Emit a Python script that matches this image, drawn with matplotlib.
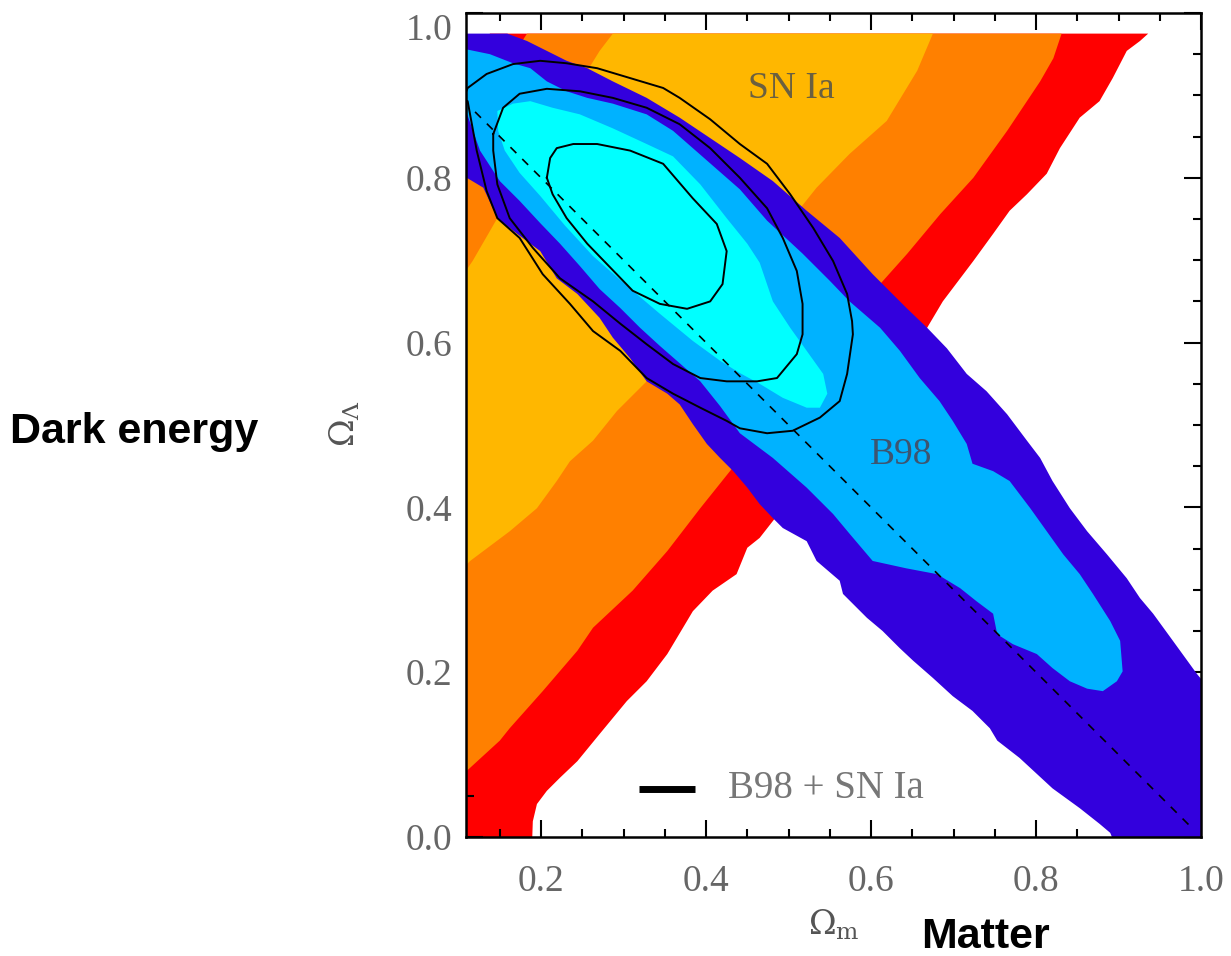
import matplotlib
matplotlib.use("Agg")
import matplotlib.pyplot as plt
from matplotlib.ticker import MultipleLocator

plt.rcParams['mathtext.fontset'] = 'dejavuserif'

# ---------------- data (Omega_m, Omega_Lambda) ----------------
# SN Ia confidence bands (68 / 95 / 99 %)
sn68 = [(0.287, 0.975), (0.271, 0.954), (0.211, 0.857), (0.147, 0.751), (0.117, 0.699),
        (0.09, 0.66), (0.09, 0.31), (0.114, 0.335), (0.162, 0.371), (0.195, 0.399),
        (0.219, 0.432), (0.235, 0.456), (0.263, 0.481), (0.292, 0.517), (0.328, 0.553),
        (0.393, 0.626), (0.465, 0.705), (0.514, 0.763), (0.534, 0.788), (0.574, 0.829),
        (0.619, 0.869), (0.656, 0.930), (0.675, 0.975)]
sn95 = [(0.183, 0.975), (0.09, 0.83), (0.09, 0.062), (0.114, 0.084), (0.150, 0.117),
        (0.162, 0.132), (0.202, 0.177), (0.244, 0.226), (0.263, 0.254), (0.311, 0.299),
        (0.353, 0.347), (0.393, 0.399), (0.429, 0.444), (0.520, 0.556), (0.611, 0.671),
        (0.644, 0.708), (0.684, 0.756), (0.724, 0.800), (0.765, 0.857), (0.805, 0.917),
        (0.821, 0.945), (0.831, 0.975)]
sn99 = [(0.138, 0.975), (0.09, 0.90), (0.09, -0.01), (0.189, -0.01), (0.190, 0.019),
        (0.195, 0.040), (0.207, 0.056), (0.223, 0.072), (0.244, 0.092), (0.271, 0.125),
        (0.304, 0.165), (0.328, 0.189), (0.353, 0.222), (0.384, 0.274), (0.408, 0.299),
        (0.437, 0.319), (0.450, 0.351), (0.465, 0.363), (0.562, 0.487), (0.668, 0.618),
        (0.687, 0.650), (0.724, 0.699), (0.748, 0.732), (0.768, 0.760), (0.789, 0.780),
        (0.813, 0.805), (0.829, 0.836), (0.853, 0.873), (0.877, 0.893), (0.893, 0.921),
        (0.910, 0.954), (0.926, 0.966), (0.936, 0.975)]

# B98 (CMB) confidence regions
b98_outer = [(0.09, 0.975), (0.159, 0.975), (0.183, 0.966), (0.207, 0.954), (0.231, 0.942),
             (0.256, 0.933), (0.287, 0.917), (0.328, 0.897), (0.368, 0.873), (0.441, 0.824),
             (0.481, 0.796), (0.522, 0.760), (0.562, 0.727), (0.602, 0.683), (0.643, 0.642),
             (0.668, 0.618), (0.692, 0.593), (0.716, 0.562), (0.740, 0.541), (0.765, 0.513),
             (0.789, 0.481), (0.805, 0.460), (0.820, 0.432), (0.841, 0.399), (0.862, 0.371),
             (0.886, 0.343), (0.910, 0.314), (0.926, 0.290), (0.942, 0.271), (0.966, 0.238),
             (0.995, 0.198), (1.01, 0.18), (1.01, -0.01), (0.896, -0.01), (0.890, 0.005),
             (0.877, 0.016), (0.853, 0.035), (0.820, 0.059), (0.780, 0.096), (0.753, 0.117),
             (0.744, 0.132), (0.723, 0.153), (0.699, 0.171), (0.675, 0.193), (0.651, 0.214),
             (0.635, 0.229), (0.614, 0.250), (0.595, 0.266), (0.566, 0.295), (0.562, 0.311),
             (0.534, 0.335), (0.522, 0.359), (0.493, 0.375), (0.481, 0.387), (0.465, 0.404),
             (0.450, 0.424), (0.433, 0.444), (0.417, 0.460), (0.401, 0.477), (0.384, 0.501),
             (0.368, 0.525), (0.353, 0.538), (0.328, 0.553), (0.308, 0.581), (0.287, 0.606),
             (0.271, 0.630), (0.244, 0.659), (0.219, 0.678), (0.199, 0.711), (0.171, 0.732),
             (0.147, 0.751), (0.130, 0.788), (0.110, 0.800), (0.09, 0.83)]
b98_mid = [(0.09, 0.96), (0.109, 0.956), (0.138, 0.950), (0.166, 0.939), (0.187, 0.933),
           (0.207, 0.917), (0.231, 0.905), (0.256, 0.897), (0.287, 0.890), (0.328, 0.877),
           (0.360, 0.857), (0.441, 0.786), (0.474, 0.748), (0.517, 0.708), (0.550, 0.675),
           (0.574, 0.650), (0.611, 0.618), (0.635, 0.590), (0.659, 0.557), (0.683, 0.529),
           (0.699, 0.505), (0.716, 0.477), (0.723, 0.453), (0.748, 0.444), (0.768, 0.432),
           (0.793, 0.399), (0.813, 0.371), (0.833, 0.343), (0.853, 0.319), (0.869, 0.295),
           (0.890, 0.262), (0.902, 0.238), (0.905, 0.201), (0.898, 0.189), (0.881, 0.177),
           (0.862, 0.180), (0.841, 0.189), (0.820, 0.205), (0.801, 0.222), (0.772, 0.234),
           (0.753, 0.246), (0.748, 0.271), (0.728, 0.286), (0.708, 0.302), (0.680, 0.319),
           (0.643, 0.326), (0.602, 0.335), (0.574, 0.368), (0.554, 0.392), (0.522, 0.424),
           (0.481, 0.460), (0.441, 0.490), (0.417, 0.523), (0.393, 0.553), (0.368, 0.575),
           (0.344, 0.596), (0.320, 0.618), (0.296, 0.642), (0.271, 0.665), (0.247, 0.693),
           (0.223, 0.720), (0.199, 0.745), (0.174, 0.772), (0.150, 0.796), (0.126, 0.833),
           (0.109, 0.881), (0.09, 0.91)]
b98_inner = [(0.147, 0.881), (0.166, 0.890), (0.187, 0.893), (0.214, 0.885), (0.247, 0.877),
             (0.287, 0.860), (0.328, 0.841), (0.360, 0.826), (0.393, 0.792), (0.425, 0.751),
             (0.450, 0.720), (0.465, 0.697), (0.481, 0.650), (0.502, 0.618), (0.522, 0.590),
             (0.542, 0.562), (0.547, 0.538), (0.538, 0.521), (0.522, 0.521), (0.493, 0.533),
             (0.465, 0.550), (0.441, 0.563), (0.417, 0.578), (0.384, 0.602), (0.344, 0.635),
             (0.304, 0.669), (0.263, 0.705), (0.229, 0.742), (0.199, 0.778), (0.174, 0.806),
             (0.156, 0.833), (0.148, 0.857)]

# B98 + SN Ia combined contours
comb_inner = [(0.207, 0.800), (0.211, 0.824), (0.219, 0.836), (0.239, 0.841), (0.268, 0.841),
              (0.308, 0.833), (0.348, 0.817), (0.384, 0.775), (0.413, 0.744), (0.425, 0.711),
              (0.420, 0.671), (0.405, 0.650), (0.377, 0.641), (0.344, 0.647), (0.311, 0.663),
              (0.284, 0.691), (0.256, 0.720), (0.231, 0.751), (0.214, 0.780), (0.207, 0.800)]
comb_mid = [(0.142, 0.853), (0.154, 0.885), (0.174, 0.902), (0.207, 0.908), (0.247, 0.905),
            (0.287, 0.897), (0.328, 0.885), (0.368, 0.865), (0.405, 0.836), (0.441, 0.800),
            (0.474, 0.763), (0.493, 0.727), (0.510, 0.687), (0.517, 0.647), (0.517, 0.610),
            (0.510, 0.586), (0.486, 0.557), (0.462, 0.553), (0.425, 0.553), (0.393, 0.557),
            (0.360, 0.574), (0.328, 0.598), (0.296, 0.623), (0.263, 0.650), (0.223, 0.678),
            (0.190, 0.715), (0.162, 0.751), (0.147, 0.792), (0.142, 0.833), (0.142, 0.853)]
comb_outer = [(0.105, 0.895), (0.111, 0.909), (0.134, 0.926), (0.166, 0.938), (0.199, 0.942),
              (0.231, 0.939), (0.268, 0.933), (0.308, 0.921), (0.348, 0.909), (0.368, 0.897),
              (0.405, 0.871), (0.441, 0.841), (0.474, 0.817), (0.502, 0.780), (0.530, 0.739),
              (0.554, 0.699), (0.571, 0.659), (0.577, 0.626), (0.578, 0.610), (0.571, 0.562),
              (0.562, 0.529), (0.538, 0.509), (0.505, 0.493), (0.474, 0.490), (0.441, 0.496),
              (0.425, 0.505), (0.393, 0.521), (0.360, 0.538), (0.328, 0.557), (0.296, 0.590),
              (0.263, 0.614), (0.235, 0.647), (0.202, 0.683), (0.174, 0.727), (0.147, 0.751),
              (0.134, 0.784), (0.122, 0.833), (0.111, 0.893), (0.105, 0.895)]

# flat universe line Omega_m + Omega_Lambda = 1
flat_x = [0.12, 0.99]
flat_y = [0.88, 0.01]

x_ticks = [0.2, 0.4, 0.6, 0.8, 1.0]
y_ticks = [0.0, 0.2, 0.4, 0.6, 0.8, 1.0]

# ---------------- figure ----------------
fig = plt.figure(figsize=(12.31, 9.56), dpi=100)
ax = fig.add_axes([466 / 1231, 1 - 837 / 956, (1201 - 466) / 1231, (837 - 13) / 956])

colors = {
    'sn99': '#FF0000', 'sn95': '#FF8000', 'sn68': '#FFB700',
    'b_out': '#3300DD', 'b_mid': '#00B2FF', 'b_in': '#00FFFF',
}

def fill(poly, color, z):
    xs = [p[0] for p in poly]
    ys = [p[1] for p in poly]
    ax.fill(xs, ys, color=color, lw=0, zorder=z)

def line(poly, z):
    xs = [p[0] for p in poly]
    ys = [p[1] for p in poly]
    ax.plot(xs, ys, color='black', lw=1.4, zorder=z)

fill(sn99, colors['sn99'], 1)
fill(sn95, colors['sn95'], 2)
fill(sn68, colors['sn68'], 3)
fill(b98_outer, colors['b_out'], 4)
fill(b98_mid, colors['b_mid'], 5)
fill(b98_inner, colors['b_in'], 6)

for c in (comb_inner, comb_mid, comb_outer):
    line(c, 8)

ax.plot(flat_x, flat_y, color='black', lw=1.2, ls=(0, (5, 5)), zorder=7)

ax.set_xlim(0.109, 1.0)
ax.set_ylim(0.0, 1.0)
ax.set_xticks(x_ticks)
ax.set_yticks(y_ticks)
ax.xaxis.set_minor_locator(MultipleLocator(0.05))
ax.yaxis.set_minor_locator(MultipleLocator(0.05))
serif = ['Liberation Serif', 'DejaVu Serif']
ax.set_xticklabels([f"{v:.1f}" for v in x_ticks], family=serif, fontsize=27, color='#666666')
ax.set_yticklabels([f"{v:.1f}" for v in y_ticks], family=serif, fontsize=27, color='#666666')
ax.tick_params(which='both', direction='in', top=True, right=True, width=1.5, color='black')
ax.tick_params(which='major', length=12)
ax.tick_params(which='minor', length=6)
ax.tick_params(axis='x', which='major', pad=20)
ax.tick_params(axis='y', which='major', pad=10)
ax.get_yticklabels()[-1].set_va('top')
for s in ax.spines.values():
    s.set_linewidth(1.8)
    s.set_zorder(10)

# labels inside the plot
ax.text(0.503, 0.908, 'SN Ia', family=serif, fontsize=27, color='#6b6040',
        ha='center', va='center', zorder=9)
ax.text(0.636, 0.464, 'B98', family=serif, fontsize=27, color='#3d5570',
        ha='center', va='center', zorder=9)
ax.plot([0.319, 0.387], [0.058, 0.058], color='black', lw=5, solid_capstyle='butt', zorder=9)
ax.text(0.545, 0.059, 'B98 + SN Ia', family=serif, fontsize=28, color='#777777',
        ha='center', va='center', zorder=9)

# axis labels
fig.text(345 / 1231, 1 - 423 / 956, r'$\Omega_\Lambda$', fontsize=24, color='#555555',
         rotation=90, ha='center', va='center')
fig.text(834 / 1231, 1 - 925 / 956, r'$\Omega_{\rm m}$', fontsize=24, color='#555555',
         ha='center', va='center')
fig.text(10 / 1231, 1 - 432 / 956, 'Dark energy', family=['Liberation Sans', 'DejaVu Sans'],
         fontsize=31, fontweight='bold', color='black', ha='left', va='center')
fig.text(985 / 1231, 1 - 937 / 956, 'Matter', family=['Liberation Sans', 'DejaVu Sans'],
         fontsize=31, fontweight='bold', color='black', ha='center', va='center')

fig.savefig('out.png', dpi=100)
